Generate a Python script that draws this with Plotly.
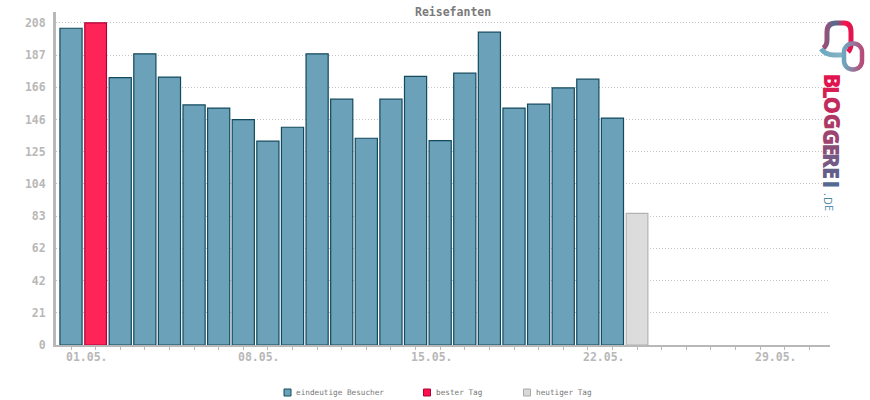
import base64
import plotly.graph_objects as go

title = "Reisefanten"
days = list(range(1, 25))
visitor_days = [1] + list(range(3, 24))
visitor_values = [204.5, 172.6, 188, 173, 155, 153, 145.5, 131.6, 140.6, 188, 158.7, 133.5,
                  158.7, 173.5, 132, 175.5, 202, 153, 155.5, 166, 171.6, 146.5]
best_days = [2]
best_values = [208]
today_days = [24]
today_values = [85]
y_ticks = [0, 20.8, 41.6, 62.4, 83.2, 104, 124.8, 145.6, 166.4, 187.2, 208]
y_labels = ["0", "21", "42", "62", "83", "104", "125", "146", "166", "187", "208"]
x_ticks = list(range(1, 32))
x_label_days = [1, 8, 15, 22, 29]
x_labels = ["01.05.", "08.05.", "15.05.", "22.05.", "29.05."]
legend_labels = ["eindeutige Besucher", "bester Tag", "heutiger Tag"]

W, H = 870, 400
L, R, T, B = 56, 40, 12, 55
MONO = "DejaVu Sans Mono"
GREY = "#b8b8b8"


def px(x):
    return (x - L) / (W - L - R)


def py(y):
    return 1 - (y - T) / (H - T - B)


fig = go.Figure()
fig.add_bar(x=visitor_days, y=visitor_values, name=legend_labels[0], width=0.9,
            marker=dict(color="#6ba1b9", line=dict(color="#134a5e", width=1.2)))
fig.add_bar(x=best_days, y=best_values, name=legend_labels[1], width=0.88,
            marker=dict(color="#ff2458", line=dict(color="#b0003a", width=1.2)))
fig.add_bar(x=today_days, y=today_values, name=legend_labels[2], width=0.88,
            marker=dict(color="#dcdcdc", line=dict(color="#b3b3b3", width=1.2)))

anns = [dict(x=px(453), y=py(12), xref="paper", yref="paper", text=title, showarrow=False,
             xanchor="center", yanchor="middle",
             font=dict(family=MONO, size=11.5, color="#7a7a7a", weight=700))]
for d, lab in zip(x_label_days, x_labels):
    anns.append(dict(x=d, y=0, xref="x", yref="y", text=lab, showarrow=False, xshift=16, yshift=-12,
                     xanchor="center", yanchor="middle",
                     font=dict(family=MONO, size=11.5, color=GREY, weight=700)))

# legend
shapes = []
swatches = [(284, "#6ba1b9", "#134a5e"), (423.5, "#ff0f4b", "#b0003a"), (523.5, "#d8d8d8", "#aaaaaa")]
for (sx, fill, line), lab in zip(swatches, legend_labels):
    shapes.append(dict(type="rect", xref="paper", yref="paper", x0=px(sx), x1=px(sx + 7),
                       y0=py(396), y1=py(389), fillcolor=fill, line=dict(color=line, width=1)))
    anns.append(dict(x=px(sx + 10), y=py(392), xref="paper", yref="paper", xanchor="left", yanchor="middle",
                     text=lab, showarrow=False, font=dict(family=MONO, size=7.7, color="#777777")))

# logo wordmark, letter by letter
letters = [("B", 80.5, "#e0144f"), ("L", 92, "#d81d52"), ("O", 105.5, "#c22a5b"), ("G", 121.5, "#ad3a65"),
           ("G", 137, "#9c4570"), ("E", 149.5, "#8a4f78"), ("R", 161, "#745a85"), ("E", 173, "#635f8a"),
           ("I", 184.5, "#556a90")]
for ch, y, col in letters:
    anns.append(dict(x=px(832), y=py(y), xref="paper", yref="paper", text=ch, showarrow=False, textangle=90,
                     xanchor="center", yanchor="middle",
                     font=dict(family="Open Sans", size=22, color=col, weight=800)))
small = [(".", 194, "#4d7a9c"), ("D", 201, "#4d85a5"), ("E", 208, "#5590ae")]
for ch, y, col in small:
    anns.append(dict(x=px(829), y=py(y), xref="paper", yref="paper", text=ch, showarrow=False, textangle=90,
                     xanchor="center", yanchor="middle",
                     font=dict(family="Open Sans", size=11, color=col)))

# logo icon (pure graphic, no text)
svg = """<svg xmlns='http://www.w3.org/2000/svg' width='50' height='60' viewBox='815 18 50 60'>
<defs>
<linearGradient id='a' x1='0' y1='0' x2='1' y2='0'><stop offset='0' stop-color='#a84a74'/>
<stop offset='.45' stop-color='#4d6d90'/><stop offset='.8' stop-color='#ff0f4b'/><stop offset='1' stop-color='#e0144f'/></linearGradient>
<linearGradient id='b' x1='0' y1='0' x2='1' y2='0'><stop offset='0' stop-color='#6ba8c0'/><stop offset='1' stop-color='#b84a78'/></linearGradient>
<linearGradient id='c' x1='0' y1='0' x2='1' y2='0'><stop offset='0' stop-color='#6ba8c0'/><stop offset='1' stop-color='#8fb4c4'/></linearGradient>
</defs>
<path d='M823 48 Q827 46 827 40 L827 32 Q827 23 836 23 L844 23 Q851 23 851 32 L851 44 Q851 49 848 52' fill='none' stroke='url(#a)' stroke-width='5'/>
<path d='M821 49 Q826 55 834 55 L846 55' fill='none' stroke='url(#c)' stroke-width='5'/>
<rect x='844' y='43.5' width='18' height='26' rx='8.5' fill='none' stroke='url(#b)' stroke-width='4.5'/>
</svg>"""
logo = "data:image/svg+xml;base64," + base64.b64encode(svg.encode()).decode()

fig.update_layout(
    width=W, height=H, autosize=False, margin=dict(l=L, r=R, t=T, b=B),
    paper_bgcolor="white", plot_bgcolor="white", barmode="overlay", showlegend=False,
    annotations=anns, shapes=shapes,
    images=[dict(source=logo, xref="paper", yref="paper", x=px(815), y=py(18),
                 sizex=50 / (W - L - R), sizey=60 / (H - T - B), xanchor="left", yanchor="top",
                 sizing="stretch", layer="above")],
    xaxis=dict(range=[0.39, 31.84], tickvals=x_ticks, ticktext=[""] * len(x_ticks), ticks="outside", ticklen=3,
               tickcolor=GREY, tickwidth=1, showgrid=False, zeroline=False, showline=True,
               linecolor=GREY, linewidth=2),
    yaxis=dict(range=[0, 215], tickvals=y_ticks, ticktext=y_labels, ticks="", showgrid=True,
               griddash="1px,2px", gridcolor="#c4c4c4", gridwidth=1, zeroline=False, showline=True,
               linecolor=GREY, linewidth=3, ticklabelstandoff=5,
               tickfont=dict(family=MONO, size=11.5, color=GREY, weight=700)),
    font=dict(family=MONO),
)
fig.write_html("out.html", config={"displayModeBar": False},
               post_script="document.body.style.margin='0';")
